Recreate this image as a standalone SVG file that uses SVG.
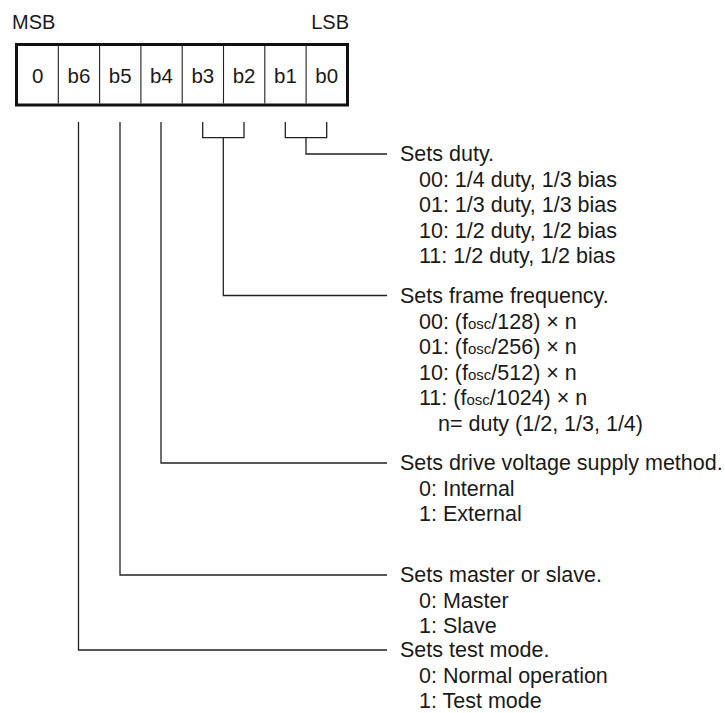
<svg xmlns="http://www.w3.org/2000/svg" width="725" height="713" viewBox="0 0 725 713">
<style>
text{font-family:"Liberation Sans",Arial,sans-serif;font-size:21.5px;fill:#1a1a1a}
.c{text-anchor:middle;font-size:20.5px}
.h{font-size:20px}
.s{font-size:15px}
.ln{fill:none;stroke:#222;stroke-width:1.3}
.div{stroke:#222;stroke-width:1.1}
</style>
<rect width="725" height="713" fill="#fff"/>
<g id="register">
<text class="h" x="12" y="29">MSB</text>
<text class="h" x="349" y="29" text-anchor="end">LSB</text>
<rect x="16.5" y="44.5" width="331" height="60.5" fill="none" stroke="#111" stroke-width="3"/>
<path class="div" d="M58.3 46V103.5M99.6 46V103.5M140.9 46V103.5M182.2 46V103.5M223.5 46V103.5M264.8 46V103.5M306.1 46V103.5"/>
<text class="c" x="37.7" y="83">0</text>
<text class="c" x="79" y="83">b6</text>
<text class="c" x="120.2" y="83">b5</text>
<text class="c" x="161.5" y="83">b4</text>
<text class="c" x="202.8" y="83">b3</text>
<text class="c" x="244.1" y="83">b2</text>
<text class="c" x="285.4" y="83">b1</text>
<text class="c" x="326.7" y="83">b0</text>
</g>
<g id="connectors">
<path class="ln" d="M78.5 122V650H387"/>
<path class="ln" d="M120 122V575H387"/>
<path class="ln" d="M161 122V463H387"/>
<path class="ln" d="M202.7 122V137.7H244V122M223.3 137.7V295.5H387"/>
<path class="ln" d="M285.3 122V137.7H326.7V122M306 137.7V154H387"/>
</g>
<g id="duty">
<text x="400" y="161">Sets duty.</text>
<text x="419" y="186.5">00: 1/4 duty, 1/3 bias</text>
<text x="419" y="212">01: 1/3 duty, 1/3 bias</text>
<text x="419" y="237.5">10: 1/2 duty, 1/2 bias</text>
<text x="419" y="263">11: 1/2 duty, 1/2 bias</text>
</g>
<g id="frame">
<text x="400" y="302.5">Sets frame frequency.</text>
<text x="419" y="328.5">00: (f<tspan class="s">osc</tspan>/128) × n</text>
<text x="419" y="354">01: (f<tspan class="s">osc</tspan>/256) × n</text>
<text x="419" y="379.5">10: (f<tspan class="s">osc</tspan>/512) × n</text>
<text x="419" y="405">11: (f<tspan class="s">osc</tspan>/1024) × n</text>
<text x="438" y="430.5">n= duty (1/2, 1/3, 1/4)</text>
</g>
<g id="drive">
<text x="400" y="470">Sets drive voltage supply method.</text>
<text x="419" y="495.5">0: Internal</text>
<text x="419" y="521">1: External</text>
</g>
<g id="master">
<text x="400" y="582">Sets master or slave.</text>
<text x="419" y="607.5">0: Master</text>
<text x="419" y="633">1: Slave</text>
</g>
<g id="test">
<text x="400" y="657">Sets test mode.</text>
<text x="419" y="682.5">0: Normal operation</text>
<text x="419" y="708">1: Test mode</text>
</g>
</svg>
